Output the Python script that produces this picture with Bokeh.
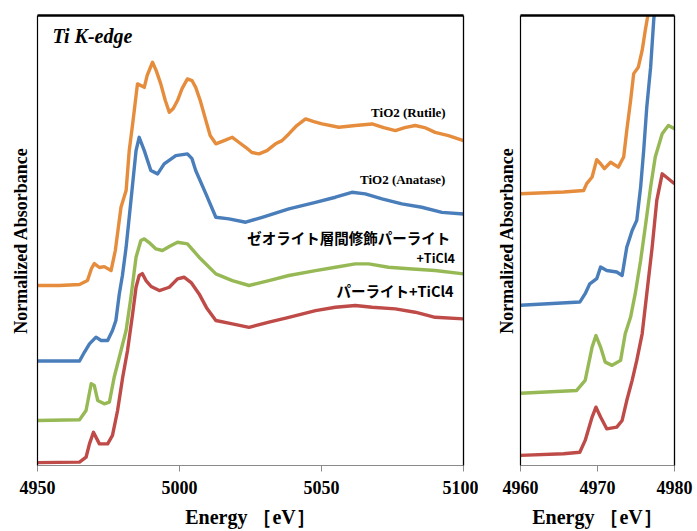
from bokeh.plotting import figure
from bokeh.models import Range1d, LinearAxis, FixedTicker, Label
from bokeh.layouts import row
from bokeh.embed import file_html
from bokeh.resources import INLINE

# ---- data: full scan (left panel), normalized absorbance ----
rutile_e = [4950, 4957.7, 4964.8, 4967.6, 4969.0, 4970.0, 4971.8, 4973.5, 4975.9, 4977.4, 4979.4, 4981.2,
            4982.3, 4983.5, 4985.2, 4987.6, 4988.6, 4990.5, 4991.8, 4993.4, 4995.0, 4996.4, 4997.8, 4999.3,
            5000.9, 5002.8, 5004.4, 5005.7, 5007.3, 5009.3, 5010.8, 5012.8, 5015.7, 5018.6, 5021.0, 5023.3,
            5025.5, 5028.0, 5030.8, 5033.8, 5036.1, 5038.5, 5041.3, 5044.4, 5047.3, 5050.2, 5056.1, 5061.9,
            5067.8, 5071.9, 5076.0, 5079.3, 5083.0, 5086.3, 5090.0, 5094.7, 5100]
rutile_v = [0.00, 0.00, 0.007, 0.034, 0.117, 0.151, 0.124, 0.13, 0.103, 0.241, 0.539, 0.654,
            0.929, 1.113, 1.389, 1.365, 1.446, 1.538, 1.48, 1.389, 1.274, 1.193, 1.219, 1.274,
            1.356, 1.423, 1.412, 1.365, 1.274, 1.136, 1.033, 0.976, 0.998, 1.021, 0.985, 0.952,
            0.916, 0.907, 0.929, 0.976, 0.998, 1.044, 1.102, 1.148, 1.129, 1.113, 1.09, 1.102,
            1.113, 1.088, 1.067, 1.088, 1.102, 1.088, 1.055, 1.033, 0.998]

anatase_e = [4950, 4964.8, 4966.5, 4968.3, 4970.6, 4972.4, 4974.7, 4976.4, 4977.6, 4978.8, 4979.9, 4981.2,
             4982.9, 4984.7, 4985.8, 4987.6, 4989.9, 4992.3, 4994.6, 4998.7, 5002.8, 5004.4, 5005.7, 5009.3,
             5012.8, 5017.4, 5023.3, 5029.1, 5038.5, 5047.9, 5054.9, 5060.7, 5065.4, 5071.3, 5078.3, 5085.3,
             5092.4, 5100]
anatase_v = [0, 0, 0.06, 0.118, 0.164, 0.141, 0.141, 0.21, 0.279, 0.462, 0.589, 0.783,
             1.105, 1.449, 1.541, 1.449, 1.312, 1.289, 1.358, 1.415, 1.427, 1.394, 1.312, 1.151,
             0.99, 0.979, 0.956, 0.99, 1.048, 1.093, 1.128, 1.162, 1.151, 1.117, 1.082, 1.059,
             1.024, 1.013]

zeolite_e = [4950, 4964.8, 4967.1, 4968.9, 4970.0, 4971.2, 4973.5, 4975.3, 4977.0, 4978.8, 4981.2, 4982.9,
             4984.7, 4986.4, 4987.6, 4989.3, 4991.7, 4994.0, 4996.4, 4999.3, 5002.8, 5006.9, 5012.8, 5018.6,
             5024.5, 5031.5, 5038.5, 5047.9, 5054.9, 5061.9, 5066.6, 5073.6, 5080.7, 5090.0, 5100]
zeolite_v = [0, 0.005, 0.069, 0.253, 0.241, 0.138, 0.115, 0.126, 0.298, 0.436, 0.62, 0.849,
             1.125, 1.24, 1.251, 1.226, 1.182, 1.171, 1.198, 1.228, 1.217, 1.125, 1.01, 0.964,
             0.93, 0.964, 0.999, 1.033, 1.056, 1.079, 1.079, 1.056, 1.045, 1.033, 1.01]

perlite_e = [4950, 4964.8, 4967.1, 4968.3, 4969.7, 4971.8, 4974.7, 4976.4, 4978.2, 4980.0, 4981.7, 4983.5,
             4984.7, 4985.8, 4986.9, 4988.2, 4990.0, 4992.9, 4996.4, 4999.3, 5001.6, 5004.1, 5006.9, 5009.7,
             5012.8, 5018.6, 5024.5, 5031.5, 5038.5, 5047.9, 5054.9, 5061.9, 5067.8, 5076.0, 5083.0, 5090.0,
             5100]
perlite_v = [0, 0.003, 0.037, 0.129, 0.209, 0.129, 0.129, 0.187, 0.359, 0.588, 0.772, 1.025,
             1.208, 1.289, 1.302, 1.254, 1.213, 1.185, 1.208, 1.266, 1.277, 1.24, 1.162, 1.061,
             0.979, 0.956, 0.932, 0.967, 1.001, 1.047, 1.07, 1.082, 1.07, 1.059, 1.036, 1.001,
             0.99]

# ---- data: pre-edge zoom (right panel) ----
rutile_pe_e = [4960, 4965.6, 4968.2, 4968.6, 4969.3, 4969.9, 4970.4, 4970.9, 4971.7, 4972.7, 4973.4, 4973.8,
               4974.3, 4974.7, 4975.3, 4975.8, 4976.2, 4976.5, 4977.2]
rutile_pe_v = [0, 0.008, 0.015, 0.047, 0.078, 0.159, 0.14, 0.117, 0.147, 0.124, 0.171, 0.295,
               0.435, 0.56, 0.59, 0.668, 0.761, 0.823, 1.0]
anatase_pe_e = [4960, 4967.7, 4968.4, 4969.0, 4969.9, 4970.4, 4971.2, 4972.5, 4973.2, 4973.8, 4974.5, 4975.1,
                4975.6, 4976.0, 4976.4, 4976.9, 4977.3, 4977.6]
anatase_pe_v = [0, 0.015, 0.054, 0.10, 0.124, 0.178, 0.162, 0.155, 0.139, 0.271, 0.349, 0.396,
                0.551, 0.722, 0.924, 1.11, 1.328, 1.45]
zeolite_pe_e = [4960, 4967.3, 4968.4, 4969.3, 4969.8, 4970.4, 4971.0, 4971.9, 4973.0, 4973.6, 4974.3, 4974.9,
                4975.6, 4976.2, 4976.9, 4977.5, 4978.4, 4979.2, 4980.0]
zeolite_pe_v = [0, 0.013, 0.06, 0.215, 0.269, 0.215, 0.145, 0.13, 0.153, 0.277, 0.355, 0.464,
                0.619, 0.774, 0.961, 1.101, 1.21, 1.248, 1.233]
perlite_pe_e = [4960, 4965.6, 4967.7, 4968.4, 4969.3, 4969.8, 4970.4, 4971.2, 4972.5, 4973.2, 4973.8, 4974.5,
                4975.1, 4975.8, 4976.4, 4977.1, 4977.7, 4978.4, 4979.2, 4980.0]
perlite_pe_v = [0, 0.008, 0.015, 0.07, 0.179, 0.225, 0.179, 0.124, 0.132, 0.163, 0.256, 0.35,
                0.443, 0.567, 0.754, 0.971, 1.189, 1.313, 1.29, 1.267]

offsets = [1.22, 0.70, 0.29, 0.0]
colors = ["#E58D3C", "#4A7EBB", "#97B955", "#BE4B48"]

left_ticks = [4950, 5000, 5050, 5100]
right_ticks = [4960, 4970, 4980]

SERIF = "Liberation Serif"
H = 531


def make_fig(width, xr, yr, ticks, border_left, border_right, ylabel_standoff):
    p = figure(width=width, height=H, x_range=Range1d(*xr), y_range=Range1d(*yr),
               output_backend="svg", toolbar_location=None,
               min_border_left=border_left, min_border_right=border_right,
               min_border_top=15, min_border_bottom=H - 465)
    p.grid.visible = False
    p.outline_line_color = None
    xa = p.xaxis[0]
    xa.ticker = FixedTicker(ticks=ticks)
    xa.axis_line_color = "#8a8a8a"
    xa.major_tick_line_color = "#8a8a8a"
    xa.major_tick_in = 0
    xa.major_tick_out = 6
    xa.minor_tick_line_color = None
    xa.major_label_standoff = 9
    xa.major_label_text_font = SERIF
    xa.major_label_text_font_style = "bold"
    xa.major_label_text_font_size = "18px"
    xa.major_label_text_color = "black"
    xa.axis_label = "Energy ［eV］"
    xa.axis_label_text_font = SERIF
    xa.axis_label_text_font_style = "bold"
    xa.axis_label_text_font_size = "20px"
    xa.axis_label_text_color = "black"
    xa.axis_label_standoff = 9

    ya = p.yaxis[0]
    ya.ticker = FixedTicker(ticks=[])
    ya.axis_line_color = "black"
    ya.axis_line_width = 1.2
    ya.major_tick_out = 0
    ya.major_tick_in = 0
    ya.minor_tick_line_color = None
    ya.major_label_standoff = 0
    ya.axis_label = "Normalized Absorbance"
    ya.axis_label_text_font = SERIF
    ya.axis_label_text_font_style = "bold"
    ya.axis_label_text_font_size = "18px"
    ya.axis_label_text_color = "black"
    ya.axis_label_standoff = ylabel_standoff

    top = LinearAxis(ticker=FixedTicker(ticks=[]), axis_line_color="black", axis_line_width=2.5,
                     major_tick_out=0, major_tick_in=0, minor_tick_line_color=None,
                     major_label_standoff=0)
    right = LinearAxis(ticker=FixedTicker(ticks=[]), axis_line_color="black", axis_line_width=1.3,
                       major_tick_out=0, major_tick_in=0, minor_tick_line_color=None,
                       major_label_standoff=0)
    p.add_layout(top, "above")
    p.add_layout(right, "right")
    return p


p1 = make_fig(478, (4950, 5100), (-0.02, 3.08), left_ticks, 37, 15, 7)
p2 = make_fig(219, (4960, 4980), (-0.047, 2.051), right_ticks, 42, 23, 4)

full = [(rutile_e, rutile_v), (anatase_e, anatase_v), (zeolite_e, zeolite_v), (perlite_e, perlite_v)]
pre = [(rutile_pe_e, rutile_pe_v), (anatase_pe_e, anatase_pe_v),
       (zeolite_pe_e, zeolite_pe_v), (perlite_pe_e, perlite_pe_v)]

for (e, v), off, c in zip(full, offsets, colors):
    p1.line(e, [a + off for a in v], line_color=c, line_width=3.4, line_join="round")
for (e, v), off, c in zip(pre, offsets, colors):
    p2.line(e, [a + off for a in v], line_color=c, line_width=3.4, line_join="round")

p1.add_layout(Label(x=4955.3, y=2.941, text="Ti K-edge", text_font=SERIF, text_font_style="bold italic",
                    text_font_size="20px", text_align="left", text_baseline="middle", text_color="black"))
p1.add_layout(Label(x=5093.7, y=2.413, text="TiO2 (Rutile)", text_font=SERIF, text_font_style="bold",
                    text_font_size="13px", text_align="right", text_baseline="middle", text_color="black"))
p1.add_layout(Label(x=5093.6, y=1.948, text="TiO2 (Anatase)", text_font=SERIF, text_font_style="bold",
                    text_font_size="13px", text_align="right", text_baseline="middle", text_color="black"))
JP = "Noto Sans CJK JP"
p1.add_layout(Label(x=5095.3, y=1.552, text="ゼオライト層間修飾パーライト", text_font=JP, text_font_style="bold",
                    text_font_size="14.5px", text_align="right", text_baseline="middle", text_color="black"))
p1.add_layout(Label(x=5097, y=1.415, text="+TiCl4", text_font=JP, text_font_style="bold",
                    text_font_size="12.5px", text_align="right", text_baseline="middle", text_color="black"))
p1.add_layout(Label(x=5096.5, y=1.185, text="パーライト+TiCl4", text_font=JP, text_font_style="bold",
                    text_font_size="14.5px", text_align="right", text_baseline="middle", text_color="black"))

layout = row(p1, p2)
open("out.html", "w").write(file_html(layout, INLINE))
